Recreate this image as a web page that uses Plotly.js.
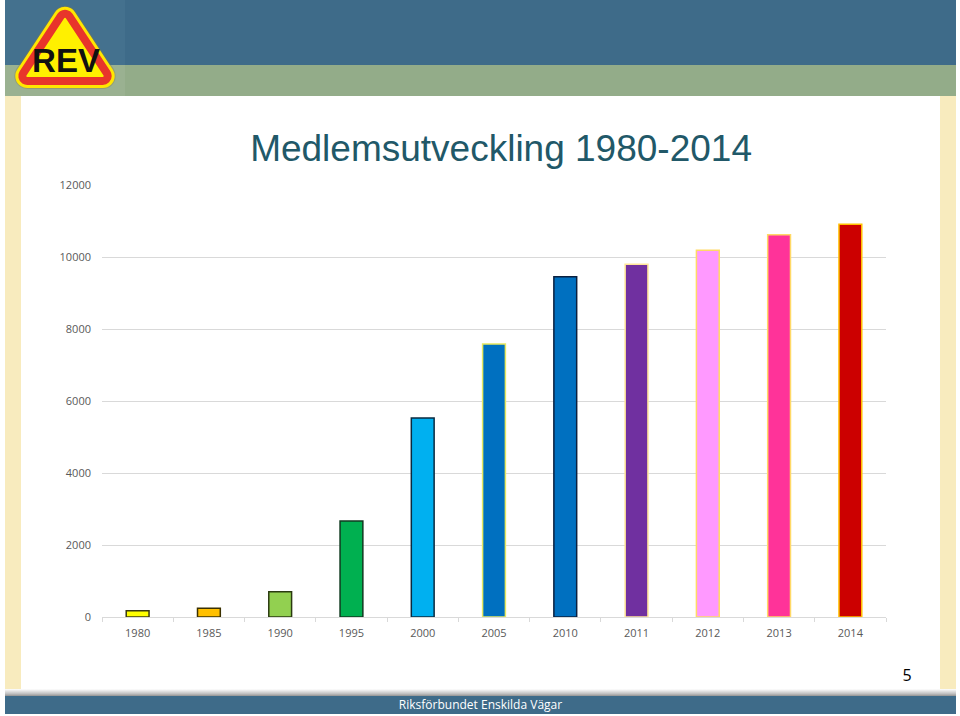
<!DOCTYPE html>
<html>
<head>
<meta charset="utf-8">
<script src="https://cdn.plot.ly/plotly-3.0.1.min.js"></script>
<style>
  html, body { margin:0; padding:0; background:#ffffff; }
  #slide { position:relative; width:960px; height:716px; overflow:hidden; background:#ffffff; }
  .abs { position:absolute; }
  #chart { position:absolute; left:0; top:0; width:960px; height:716px; }
</style>
</head>
<body>
<div id="slide">
  <div class="abs" style="left:5px;top:0;width:951px;height:65px;background:#3E6B89;"></div>
  <div class="abs" style="left:5px;top:0;width:120px;height:65px;background:#44718E;"></div>
  <div class="abs" style="left:5px;top:65px;width:951px;height:31px;background:#93AC89;"></div>
  <div class="abs" style="left:5px;top:65px;width:120px;height:31px;background:#9AB191;"></div>
  <div class="abs" style="left:5px;top:96px;width:16px;height:594px;background:#F8EBBE;"></div>
  <div class="abs" style="left:940px;top:96px;width:16px;height:594px;background:#F8EBBE;"></div>
  <div class="abs" style="left:5px;top:689px;width:951px;height:8px;background:linear-gradient(#ffffff,#bfbfbf 60%,#7f7f7f);"></div>
  <div class="abs" style="left:5px;top:696px;width:951px;height:18px;background:#3E6B89;"></div>
  <div class="abs" style="left:5px;top:696px;width:951px;height:18px;line-height:18px;text-align:center;color:#ffffff;font-family:'Open Sans',sans-serif;font-size:12px;">Riksförbundet Enskilda Vägar</div>
  <div class="abs" style="left:890px;top:664px;width:34px;text-align:center;color:#000000;font-family:'Open Sans',sans-serif;font-size:16px;">5</div>
  <svg class="abs" style="left:0;top:0;" width="130" height="96" viewBox="0 0 130 96">
    <path d="M65,18.8 L27.3,76 L102.7,76 Z" fill="#8a7a40" stroke="#8a7a40" stroke-width="26" stroke-linejoin="round" opacity="0.35"/>
    <path d="M65,18.8 L27.3,76 L102.7,76 Z" fill="#FFE600" stroke="#FFE600" stroke-width="24" stroke-linejoin="round"/>
    <path d="M65,18.8 L27.3,76 L102.7,76 Z" fill="#E8352B" stroke="#E8352B" stroke-width="18" stroke-linejoin="round"/>
    <path d="M65,18.8 L27.3,76 L102.7,76 Z" fill="#FFF000" stroke="#FFF000" stroke-width="2" stroke-linejoin="round"/>
    <text x="66" y="72" text-anchor="middle" font-family="'Liberation Sans', Arial, sans-serif" font-weight="bold" font-size="33" fill="#111111">REV</text>
  </svg>
  <div id="chart"></div>
</div>
<script>
var years = ["1980","1985","1990","1995","2000","2005","2010","2011","2012","2013","2014"];
var members = [175, 240, 700, 2670, 5530, 7580, 9450, 9800, 10190, 10620, 10910];
var yTicks = [0, 2000, 4000, 6000, 8000, 10000, 12000];

var fillColors = ["#FFFF00","#FFC000","#92D050","#00B050","#00B0F0","#0070C0","#0070C0","#7030A0","#FF99FF","#FF3399","#CC0000"];
var lineColors = ["#3a3a10","#3a3000","#2a3a10","#103a20","#0a2a40","#E8E860","#0a2040","#FFE699","#FFD966","#FFD966","#FFC000"];

var trace = {
  type: "bar",
  x: years,
  y: members,
  marker: { color: fillColors, line: { color: lineColors, width: 1.5 } },
  hoverinfo: "x+y"
};

var layout = {
  width: 960, height: 716,
  paper_bgcolor: "rgba(0,0,0,0)",
  plot_bgcolor: "rgba(0,0,0,0)",
  margin: { l: 102, r: 74, t: 185, b: 99, pad: 0 },
  bargap: 0.68,
  showlegend: false,
  title: {
    text: "Medlemsutveckling 1980-2014",
    font: { family: "'Liberation Sans', Arial, sans-serif", size: 37, color: "#215868" },
    x: 0.509, xanchor: "center", xref: "paper",
    y: 1 - 148/716, yanchor: "middle", yref: "container"
  },
  xaxis: {
    type: "category",
    tickson: "boundaries",
    ticks: "outside", ticklen: 4, tickcolor: "#D9D9D9", tickwidth: 1,
    showline: true, linecolor: "#D9D9D9", linewidth: 1,
    showgrid: false, zeroline: false,
    tickfont: { family: "'Open Sans', sans-serif", size: 11, color: "#595959" },
    ticklabelstandoff: 6
  },
  yaxis: {
    range: [0, 12000],
    tickvals: yTicks,
    ticktext: yTicks.map(String),
    showgrid: true, gridcolor: "#D9D9D9", gridwidth: 1,
    zeroline: false, showline: false, ticks: "",
    tickfont: { family: "'Open Sans', sans-serif", size: 11, color: "#595959" },
    ticklabelstandoff: 10
  }
};

Plotly.newPlot("chart", [trace], layout, { displayModeBar: false, staticPlot: true });
</script>
</body>
</html>
